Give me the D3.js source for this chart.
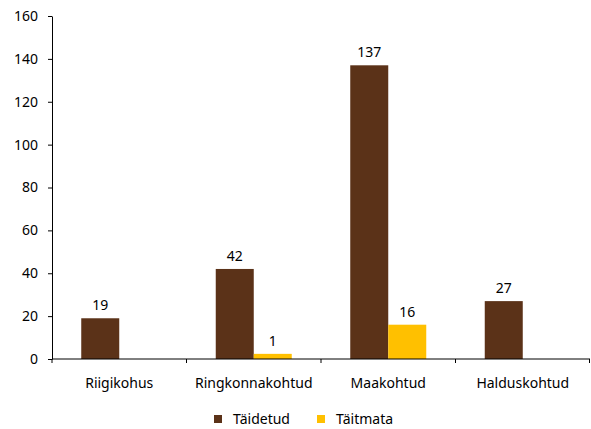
<!DOCTYPE html>
<html>
<head>
<meta charset="utf-8">
<script src="https://cdn.jsdelivr.net/npm/d3@7"></script>
<style>
  body { margin: 0; background: #fff; }
  text { font-family: "Noto Sans", "Open Sans", sans-serif; fill: #000; }
</style>
</head>
<body>
<script>
// data
var courts = ["Riigikohus", "Ringkonnakohtud", "Maakohtud", "Halduskohtud"];
var seriesNames = ["Täidetud", "Täitmata"];
var doneValues = [19, 42, 137, 27];
var notDoneValues = [0, 2.4, 16, 0];
var doneLabels = ["19", "42", "137", "27"];
var notDoneLabels = ["", "1", "16", ""];
var yTicks = [0, 20, 40, 60, 80, 100, 120, 140, 160];
var colors = ["#5b3218", "#ffc000"];

var width = 591, height = 429;
var margin = {left: 52, right: 1, top: 16, bottom: 70};
var fontSize = "14px";

var svg = d3.select("body").append("svg")
    .attr("width", width)
    .attr("height", height);

var x = d3.scaleBand()
    .domain(courts)
    .range([margin.left, width - margin.right]);

var x1 = d3.scaleBand()
    .domain(seriesNames)
    .range([0, 76]);

var y = d3.scaleLinear()
    .domain([0, 160])
    .range([height - margin.bottom, margin.top]);

var rows = courts.map(function(c, i) {
  return [
    {court: c, s: seriesNames[0], v: doneValues[i], label: doneLabels[i], color: colors[0]},
    {court: c, s: seriesNames[1], v: notDoneValues[i], label: notDoneLabels[i], color: colors[1]}
  ];
});

var groups = svg.selectAll(".grp")
    .data(rows)
    .enter().append("g")
    .attr("class", "grp")
    .attr("transform", function(d) {
      return "translate(" + (x(d[0].court) + (x.bandwidth() - 76) / 2) + ",0)";
    });

groups.selectAll("rect")
    .data(function(d) { return d; })
    .enter().append("rect")
    .attr("x", function(d) { return x1(d.s); })
    .attr("width", x1.bandwidth())
    .attr("y", function(d) { return y(d.v); })
    .attr("height", function(d) { return y(0) - y(d.v); })
    .attr("fill", function(d) { return d.color; });

groups.selectAll(".lbl")
    .data(function(d) { return d; })
    .enter().append("text")
    .attr("class", "lbl")
    .attr("x", function(d) { return x1(d.s) + x1.bandwidth() / 2; })
    .attr("y", function(d) { return y(d.v) - 8; })
    .attr("text-anchor", "middle")
    .style("font-size", fontSize)
    .text(function(d) { return d.label; });

// y axis
var yAxis = svg.append("g")
    .attr("transform", "translate(" + margin.left + ",0)")
    .call(d3.axisLeft(y).tickValues(yTicks).tickSize(4).tickPadding(10).tickSizeOuter(0));
yAxis.selectAll("text").style("font-size", fontSize).attr("fill", "#000")
    .style("font-family", "'Noto Sans', sans-serif");
yAxis.selectAll("line,path").attr("stroke", "#000");

// x axis with ticks at band edges
var xAxisG = svg.append("g")
    .attr("transform", "translate(0," + y(0) + ")");
xAxisG.append("line")
    .attr("x1", margin.left).attr("x2", width - margin.right)
    .attr("stroke", "#000");
var edges = courts.map(function(c) { return x(c); }).concat([x.range()[1] - 0.5]);
xAxisG.selectAll(".tk")
    .data(edges)
    .enter().append("line")
    .attr("class", "tk")
    .attr("x1", function(d) { return d; }).attr("x2", function(d) { return d; })
    .attr("y1", 0).attr("y2", 4)
    .attr("stroke", "#000");
xAxisG.selectAll(".xl")
    .data(courts)
    .enter().append("text")
    .attr("class", "xl")
    .attr("x", function(d) { return x(d) + x.bandwidth() / 2; })
    .attr("y", 29)
    .attr("text-anchor", "middle")
    .style("font-size", fontSize)
    .text(function(d) { return d; });

// legend
var legendX = [214, 317];
var legend = svg.selectAll(".legend")
    .data(seriesNames)
    .enter().append("g")
    .attr("class", "legend")
    .attr("transform", function(d, i) { return "translate(" + legendX[i] + ",415)"; });
legend.append("rect")
    .attr("width", 8).attr("height", 8)
    .attr("fill", function(d, i) { return colors[i]; });
legend.append("text")
    .attr("x", 19).attr("y", 9)
    .style("font-size", fontSize)
    .text(function(d) { return d; });
</script>
</body>
</html>
